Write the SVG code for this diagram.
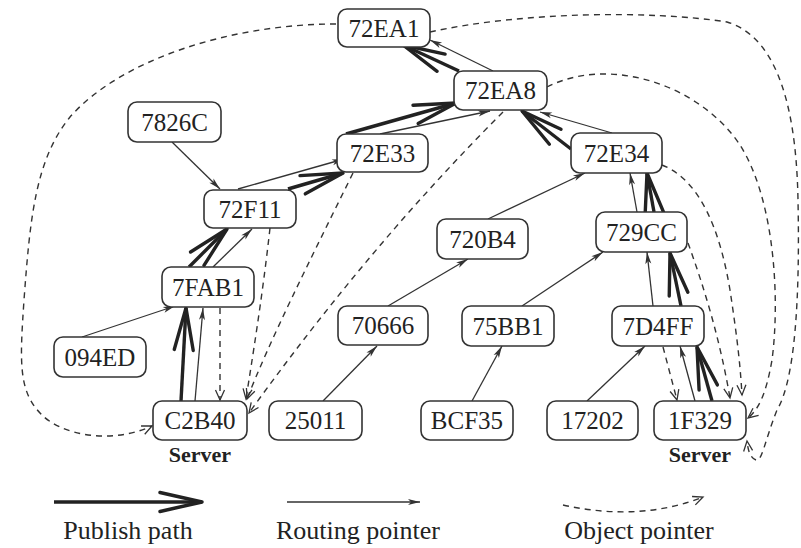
<svg xmlns="http://www.w3.org/2000/svg" width="801" height="548" viewBox="0 0 801 548">
<style>
.nb{fill:#fff;stroke:#333;stroke-width:1.6}
.nt{font-family:'Liberation Serif','DejaVu Serif',serif;font-size:25px;fill:#222;text-anchor:middle}
.sv{font-family:'Liberation Serif','DejaVu Serif',serif;font-size:22px;font-weight:bold;fill:#222;text-anchor:middle}
.lg{font-family:'Liberation Serif','DejaVu Serif',serif;font-size:26px;fill:#222;text-anchor:middle}
.pub{fill:none;stroke:#222;stroke-width:3.4;marker-end:url(#mp)}
.rt{fill:none;stroke:#333;stroke-width:1.3;marker-end:url(#mr)}
.ob{fill:none;stroke:#333;stroke-width:1.4;stroke-dasharray:6 5;marker-end:url(#mo)}
</style>
<defs>
<marker id="mp" markerUnits="userSpaceOnUse" markerWidth="50" markerHeight="26" refX="44" refY="13" orient="auto" overflow="visible">
<path d="M2,3.5 L44,13 L2,22.5" fill="none" stroke="#222" stroke-width="3.4" stroke-linejoin="round" stroke-linecap="round"/>
</marker>
<marker id="mr" markerUnits="userSpaceOnUse" markerWidth="14" markerHeight="8" refX="12" refY="4" orient="auto" overflow="visible">
<path d="M0,1 L12,4 L0,7 L3,4 z" fill="#333"/>
</marker>
<marker id="mo" markerUnits="userSpaceOnUse" markerWidth="14" markerHeight="12" refX="12" refY="6" orient="auto" overflow="visible">
<path d="M2,1.5 L12,6 L2,10.5" fill="none" stroke="#333" stroke-width="1.3"/>
</marker>
</defs>

<g id="connectors">
<path class="pub" d="M181,401 L186,308"/>
<path class="pub" d="M189,267 L227,229"/>
<path class="pub" d="M288,189 L343,173"/>
<path class="pub" d="M346,134 L456,103"/>
<path class="pub" d="M459,71 L403,45"/>
<path class="pub" d="M571,149 L522,111"/>
<path class="pub" d="M654,212 L647,173"/>
<path class="pub" d="M681,306 L670,253"/>
<path class="pub" d="M712,401 L697,347"/>
<path class="rt" d="M172,142 L220,189"/>
<path class="rt" d="M82,337 L175,306"/>
<path class="rt" d="M195,401 L203,308"/>
<path class="rt" d="M213,267 L252,229"/>
<path class="rt" d="M238,189 L344,159"/>
<path class="rt" d="M380,134 L490,111"/>
<path class="rt" d="M493,71 L430,40"/>
<path class="rt" d="M612,133 L540,112"/>
<path class="rt" d="M637,212 L630,173"/>
<path class="rt" d="M653,306 L647,252"/>
<path class="rt" d="M695,401 L680,346"/>
<path class="rt" d="M323,401 L377,346"/>
<path class="rt" d="M388,306 L468,259"/>
<path class="rt" d="M488,219 L585,173"/>
<path class="rt" d="M472,401 L502,346"/>
<path class="rt" d="M522,306 L603,252"/>
<path class="rt" d="M587,401 L645,346"/>
<path class="ob" d="M336,24 C230,24 120,60 70,117 C35,160 30,220 24,300 C20,360 18,390 40,413 C60,435 110,445 152,426"/>
<path class="ob" d="M430,32 C520,12 650,10 727,22 C770,35 796,90 798,200 C800,300 795,380 777,410 C765,440 762,462 756,460 C750,458 748,450 747,441"/>
<path class="ob" d="M547,87 C610,55 700,85 740,145 C775,200 780,300 772,360 C766,395 758,410 748,418"/>
<path class="ob" d="M662,165 C700,180 720,230 730,290 C736,330 740,360 742,395"/>
<path class="ob" d="M688,243 C705,290 720,340 730,398"/>
<path class="ob" d="M663,347 L677,400"/>
<path class="ob" d="M220,308 L220,400"/>
<path class="ob" d="M270,228 C262,300 252,360 246,399"/>
<path class="ob" d="M353,173 C310,260 270,340 247,399"/>
<path class="ob" d="M503,112 Q370,245 249,413"/>
</g>

<g id="n72EA1"><rect class="nb" x="338" y="9" width="92" height="38" rx="9"/><text class="nt" x="384" y="37">72EA1</text></g>
<g id="n72EA8"><rect class="nb" x="454" y="71" width="93" height="39" rx="9"/><text class="nt" x="500.5" y="99">72EA8</text></g>
<g id="n72E33"><rect class="nb" x="337" y="134" width="91" height="38" rx="9"/><text class="nt" x="382.5" y="162">72E33</text></g>
<g id="n72E34"><rect class="nb" x="571" y="133" width="91" height="40" rx="9"/><text class="nt" x="616.5" y="162">72E34</text></g>
<g id="n7826C"><rect class="nb" x="128" y="102" width="93" height="40" rx="9"/><text class="nt" x="174.5" y="131">7826C</text></g>
<g id="n72F11"><rect class="nb" x="204" y="190" width="92" height="38" rx="9"/><text class="nt" x="250" y="218">72F11</text></g>
<g id="n7FAB1"><rect class="nb" x="162" y="267" width="92" height="40" rx="9"/><text class="nt" x="208" y="296">7FAB1</text></g>
<g id="n094ED"><rect class="nb" x="54" y="337" width="92" height="40" rx="9"/><text class="nt" x="100" y="366">094ED</text></g>
<g id="n70666"><rect class="nb" x="338" y="306" width="90" height="39" rx="9"/><text class="nt" x="383" y="334">70666</text></g>
<g id="n720B4"><rect class="nb" x="437" y="219" width="91" height="40" rx="9"/><text class="nt" x="482.5" y="248">720B4</text></g>
<g id="n729CC"><rect class="nb" x="596" y="212" width="91" height="40" rx="9"/><text class="nt" x="641.5" y="241">729CC</text></g>
<g id="n75BB1"><rect class="nb" x="462" y="306" width="92" height="40" rx="9"/><text class="nt" x="508" y="335">75BB1</text></g>
<g id="n7D4FF"><rect class="nb" x="612" y="306" width="92" height="40" rx="9"/><text class="nt" x="658" y="335">7D4FF</text></g>
<g id="nC2B40"><rect class="nb" x="153" y="401" width="94" height="39" rx="9"/><text class="nt" x="200" y="429">C2B40</text><text class="sv" x="200" y="462">Server</text></g>
<g id="n25011"><rect class="nb" x="269" y="401" width="93" height="39" rx="9"/><text class="nt" x="315.5" y="429">25011</text></g>
<g id="nBCF35"><rect class="nb" x="421" y="401" width="92" height="39" rx="9"/><text class="nt" x="467" y="429">BCF35</text></g>
<g id="n17202"><rect class="nb" x="547" y="401" width="91" height="39" rx="9"/><text class="nt" x="592.5" y="429">17202</text></g>
<g id="n1F329"><rect class="nb" x="654" y="401" width="92" height="39" rx="9"/><text class="nt" x="700" y="429">1F329</text><text class="sv" x="700" y="462">Server</text></g>

<g id="legend">
<path class="pub" d="M54,502 L202,502"/>
<path class="rt" d="M287,502 L420,502"/>
<path class="ob" d="M563,505 Q640,522 703,497"/>
<text class="lg" x="128" y="539">Publish path</text>
<text class="lg" x="358" y="539">Routing pointer</text>
<text class="lg" x="639" y="539">Object pointer</text>
</g>
</svg>
